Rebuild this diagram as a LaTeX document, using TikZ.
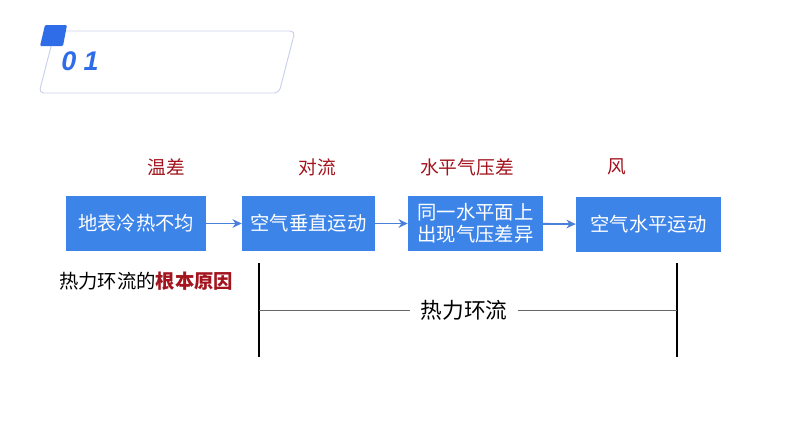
\documentclass[tikz,border=0pt]{standalone}
\usepackage{fontspec}
\setmainfont{Noto Sans CJK SC}
\newfontfamily\numfont{Liberation Sans}
\usepackage{xcolor}
\usetikzlibrary{arrows.meta}

\definecolor{boxblue}{HTML}{3D84E8}
\definecolor{arrowblue}{HTML}{4A80DA}
\definecolor{headblue}{HTML}{2F6DE8}
\definecolor{darkred}{HTML}{A3141E}
\definecolor{frame}{HTML}{C8CFEA}

\begin{document}
\begin{tikzpicture}[x=0.03cm, y=-0.03cm,
	stepbox/.style={fill=boxblue, text=white, inner sep=0pt, minimum height=55*0.03cm,
		font=\fontsize{16.5pt}{19pt}\selectfont, align=center},
	cause/.style={text=darkred, font=\fontsize{16pt}{19pt}\selectfont},
	flow/.style={draw=arrowblue, line width=1.6pt, -{Stealth[length=2.8mm, width=2.6mm]}}]
	\useasboundingbox (0,0) rectangle (794,447);
	% header
	\draw[frame, line width=0.8pt, rounded corners=4pt] (55,31) -- (295,31) -- (279,93) -- (39,93) -- cycle;
	\fill[headblue, rounded corners=1pt] (45,25) -- (67,25) -- (63,46) -- (40,46) -- cycle;
	\node[text=headblue, font=\numfont\fontsize{23pt}{26pt}\bfseries\itshape] (num) at (80,61) {0 1};
	% chain of boxes
	\node[stepbox, minimum width=140*0.03cm] (ground) at (136,223.5) {地表冷热不均};
	\node[stepbox, minimum width=133*0.03cm] (vert) at (308.5,223.5) {空气垂直运动};
	\node[stepbox, minimum width=135*0.03cm] (press) at (475.5,223.5) {同一水平面上\\出现气压差异};
	\node[stepbox, minimum width=145*0.03cm] (horiz) at (648.5,224.5) {空气水平运动};
	\draw[flow] (ground) -- (vert);
	\draw[flow] (vert) -- (press);
	\draw[flow] (press) -- (horiz);
	% labels above
	\node[cause] (temp) at (166,167) {温差};
	\node[cause] (conv) at (317,167) {对流};
	\node[cause] (diff) at (467,167) {水平气压差};
	\node[cause] (wind) at (617,167) {风};
	% bottom
	\node[anchor=west, inner sep=0pt, font=\fontsize{16.5pt}{19pt}\selectfont] (root) at (59,281)
		{热力环流的\textcolor{darkred}{\bfseries 根本原因}};
	\coordinate (lt) at (259,263);
	\coordinate (lb) at (259,357);
	\coordinate (lm) at (259,310);
	\coordinate (rt) at (677,263);
	\coordinate (rb) at (677,357);
	\coordinate (rm) at (677,310);
	\draw[line width=1pt] (lt) -- (lb);
	\draw[line width=1pt] (rt) -- (rb);
	\node[font=\fontsize{18.5pt}{21pt}\selectfont, inner xsep=10*0.03cm] (circ) at (464,310) {热力环流};
	\draw[gray!80!black, line width=0.7pt] (lm) -- (circ.west);
	\draw[gray!80!black, line width=0.7pt] (circ.east) -- (rm);
\end{tikzpicture}
\end{document}
